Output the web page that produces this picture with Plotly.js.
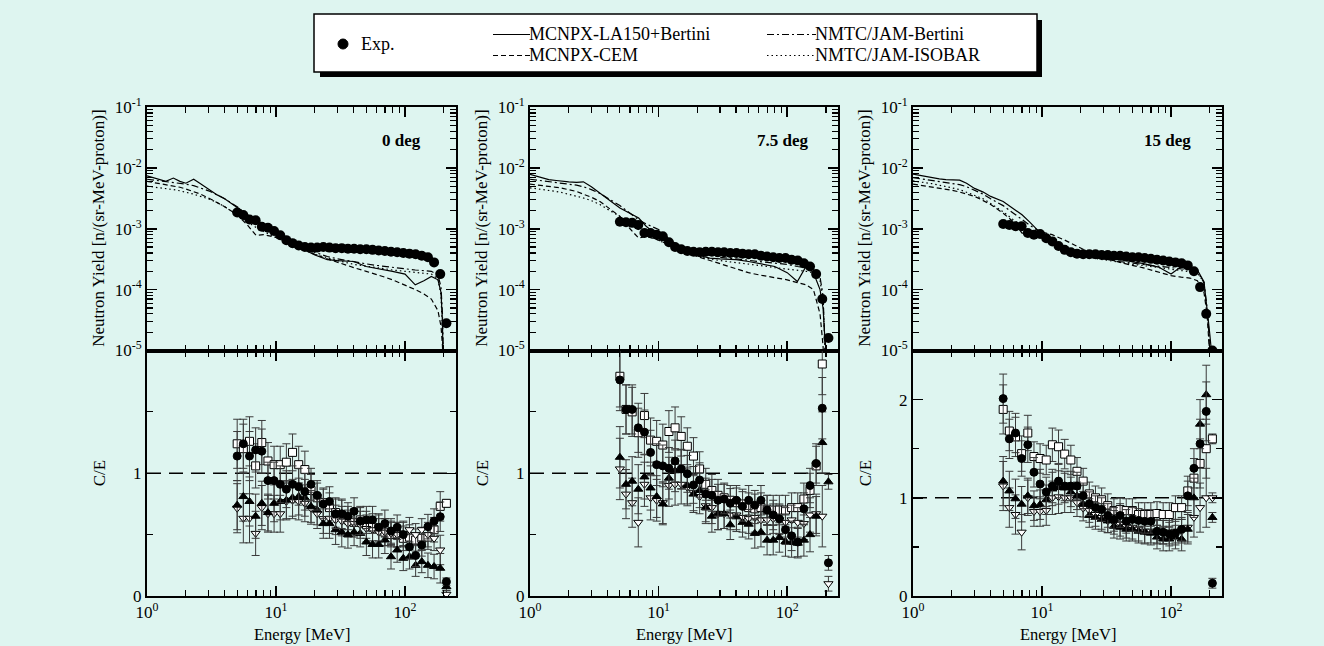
<!DOCTYPE html>
<html><head><meta charset="utf-8">
<script src="https://cdn.plot.ly/plotly-3.0.1.min.js"></script>
<style>html,body{margin:0;padding:0;background:#def5f0;} #chart{width:1324px;height:646px;}</style>
</head><body><div id="chart"></div>
<script>
// ---------- data ----------
const E = [5.0,5.58,6.23,6.95,7.76,8.66,9.66,10.78,12.03,13.43,14.99,16.73,18.67,20.84,23.26,25.96,28.97,32.33,36.09,40.28,44.95,50.17,55.99,62.49,69.75,77.84,86.88,96.97,108.2,120.8,134.8,150.5,167.9,187.4,209.2];
const LE = [1,1.2,1.4,1.6,1.8,2,2.3,2.6,3,3.5,4,5,6,7,8,10,12,15,20,25,30,40,50,60,70,80,100,120,140,160,180,190,195,200,205,210];

// 0 deg
const exp0 = [1.85e-3,1.68e-3,1.42e-3,1.38e-3,1.08e-3,1.04e-3,9.2e-4,7.8e-4,6.5e-4,5.8e-4,5.3e-4,5.0e-4,4.9e-4,4.9e-4,5.0e-4,4.9e-4,4.8e-4,4.8e-4,4.7e-4,4.7e-4,4.6e-4,4.6e-4,4.5e-4,4.4e-4,4.3e-4,4.2e-4,4.1e-4,4.0e-4,3.9e-4,3.8e-4,3.6e-4,3.4e-4,2.8e-4,1.8e-4,2.8e-5];
const la150_0 = [7.4e-3,6.5e-3,6.0e-3,6.8e-3,6.0e-3,5.6e-3,6.5e-3,5.5e-3,4.5e-3,3.6e-3,3.1e-3,2.2e-3,1.7e-3,1.4e-3,1.2e-3,9.0e-4,6.6e-4,5.0e-4,3.7e-4,3.1e-4,3.0e-4,2.9e-4,2.4e-4,2.25e-4,2.1e-4,2.0e-4,1.8e-4,1.2e-4,1.4e-4,1.65e-4,1.45e-4,9e-5,3e-5,1e-6,null,null];
const cem_0 = [6.0e-3,5.6e-3,5.3e-3,5.0e-3,4.8e-3,4.5e-3,4.1e-3,3.7e-3,3.2e-3,2.7e-3,2.3e-3,1.7e-3,1.15e-3,7.8e-4,8.0e-4,7.2e-4,6.2e-4,5.0e-4,3.8e-4,3.2e-4,2.8e-4,2.3e-4,2.0e-4,1.8e-4,1.6e-4,1.45e-4,1.2e-4,1.0e-4,8.5e-5,7.0e-5,4.5e-5,2.5e-5,1.2e-5,2e-6,null,null];
const bert_0 = [6.5e-3,6.2e-3,6.0e-3,5.8e-3,5.6e-3,5.4e-3,5.1e-3,4.7e-3,4.2e-3,3.6e-3,3.1e-3,2.3e-3,1.7e-3,1.3e-3,1.05e-3,8.2e-4,6.6e-4,5.2e-4,4.1e-4,3.5e-4,3.2e-4,2.85e-4,2.65e-4,2.5e-4,2.4e-4,2.3e-4,2.2e-4,2.1e-4,2.05e-4,2.0e-4,1.75e-4,1.1e-4,4e-5,3e-6,null,null];
const iso_0 = [5.0e-3,4.8e-3,4.6e-3,4.4e-3,4.2e-3,4.0e-3,3.7e-3,3.4e-3,3.1e-3,2.7e-3,2.3e-3,1.7e-3,1.3e-3,1.05e-3,9.0e-4,7.2e-4,6.0e-4,4.8e-4,3.8e-4,3.3e-4,3.0e-4,2.6e-4,2.4e-4,2.3e-4,2.2e-4,2.1e-4,2.0e-4,1.9e-4,1.85e-4,1.8e-4,1.5e-4,8e-5,2e-5,2e-6,null,null];
const ceLA_0 = [1.14,1.24,1.14,1.19,1.18,0.94,0.94,0.91,0.87,0.91,0.89,0.85,0.91,0.82,0.75,0.77,0.67,0.67,0.65,0.69,0.61,0.62,0.62,0.56,0.59,0.53,0.56,0.50,0.40,0.33,0.415,0.565,0.61,0.646,0.117];
const ceBE_0 = [1.24,1.20,1.26,1.06,1.25,1.10,1.07,1.07,1.09,1.17,1.07,1.03,0.86,0.80,0.76,0.72,0.68,0.66,0.62,0.60,0.62,0.58,0.56,0.55,0.52,0.50,0.50,0.47,0.48,0.456,0.47,0.48,0.54,0.73,0.755];
const ceCEM_0 = [0.74,0.81,0.77,0.65,0.755,0.68,0.755,0.77,0.78,0.80,0.81,0.80,0.73,0.70,0.59,0.59,0.54,0.52,0.50,0.52,0.51,0.44,0.42,0.42,0.456,0.32,0.375,0.307,0.32,0.25,0.28,0.25,0.24,0.226,0.076];
const ceIS_0 = [0.715,0.633,0.633,0.51,0.72,0.67,0.67,0.67,0.77,0.78,0.77,0.755,0.715,0.67,0.63,0.63,0.62,0.61,0.59,0.59,0.58,0.55,0.54,0.52,0.52,0.51,0.50,0.51,0.54,0.50,0.54,0.50,0.47,0.375,0.014];
const err_0 = [0.2,0.2,0.2,0.18,0.18,0.15,0.15,0.15,0.15,0.15,0.15,0.15,0.13,0.12,0.12,0.12,0.12,0.12,0.11,0.11,0.11,0.11,0.11,0.11,0.11,0.1,0.1,0.1,0.1,0.09,0.09,0.1,0.1,0.12,0.03];

// 7.5 deg
const exp75 = [1.30e-3,1.28e-3,1.25e-3,1.15e-3,8.5e-4,8.5e-4,8.0e-4,7.5e-4,6.0e-4,5.0e-4,4.6e-4,4.3e-4,4.2e-4,4.1e-4,4.2e-4,4.2e-4,4.1e-4,4.1e-4,4.0e-4,4.0e-4,3.9e-4,3.8e-4,3.8e-4,3.6e-4,3.5e-4,3.4e-4,3.3e-4,3.3e-4,3.1e-4,3.0e-4,2.7e-4,2.4e-4,1.8e-4,7e-5,1.6e-5];
const la150_75 = [7.8e-3,7.0e-3,6.4e-3,6.2e-3,6.0e-3,5.9e-3,5.8e-3,5.9e-3,4.9e-3,3.9e-3,3.1e-3,2.2e-3,1.8e-3,1.5e-3,1.1e-3,7.5e-4,5.8e-4,4.6e-4,3.7e-4,3.3e-4,3.2e-4,3.1e-4,2.9e-4,2.7e-4,2.5e-4,2.4e-4,1.9e-4,1.36e-4,2.4e-4,1.9e-4,1.0e-4,5e-5,2e-5,1e-5,1e-6,null];
const cem_75 = [5.4e-3,5.2e-3,5.0e-3,4.8e-3,4.6e-3,4.4e-3,4.1e-3,3.7e-3,3.3e-3,2.8e-3,2.3e-3,1.6e-3,1.0e-3,7.0e-4,7.5e-4,6.5e-4,5.5e-4,4.3e-4,3.5e-4,3.0e-4,2.7e-4,2.2e-4,1.9e-4,1.75e-4,1.65e-4,1.58e-4,1.45e-4,1.3e-4,1.2e-4,1.0e-4,4e-5,1.2e-5,3e-6,null,null,null];
const bert_75 = [6.5e-3,6.2e-3,6.0e-3,5.8e-3,5.6e-3,5.4e-3,5.2e-3,4.9e-3,4.4e-3,3.8e-3,3.2e-3,2.4e-3,1.8e-3,1.4e-3,1.2e-3,9.7e-4,6.8e-4,5.0e-4,4.2e-4,3.7e-4,3.4e-4,3.2e-4,3.0e-4,2.9e-4,2.8e-4,2.7e-4,2.6e-4,2.4e-4,2.3e-4,2.1e-4,1.6e-4,8e-5,3e-5,5e-6,null,null];
const iso_75 = [4.7e-3,4.5e-3,4.3e-3,4.1e-3,3.9e-3,3.7e-3,3.5e-3,3.2e-3,2.9e-3,2.5e-3,2.1e-3,1.6e-3,1.2e-3,9.5e-4,8.0e-4,6.5e-4,5.3e-4,4.3e-4,3.6e-4,3.2e-4,3.0e-4,2.8e-4,2.6e-4,2.5e-4,2.4e-4,2.3e-4,2.2e-4,2.1e-4,2.0e-4,1.9e-4,1.4e-4,7e-5,2.5e-5,4e-6,null,null];
const ceLA_75 = [1.76,1.52,1.52,1.37,1.335,1.17,1.07,1.06,1.04,1.10,1.035,0.995,0.905,0.945,0.83,0.82,0.78,0.79,0.755,0.78,0.73,0.78,0.74,0.78,0.70,0.66,0.63,0.54,0.49,0.44,0.71,0.90,1.08,1.53,0.27];
const ceBE_75 = [1.79,1.52,1.50,1.33,1.47,1.27,1.26,1.23,1.34,1.37,1.30,1.22,1.14,1.035,0.91,0.86,0.82,0.80,0.78,0.76,0.75,0.72,0.71,0.72,0.70,0.70,0.70,0.70,0.72,0.72,0.79,0.86,1.06,1.89,null];
const ceCEM_75 = [1.13,0.91,0.935,0.87,0.97,0.88,0.81,0.75,0.96,1.02,1.03,0.90,0.83,0.86,0.72,0.65,0.67,0.67,0.58,0.645,0.60,0.585,0.51,0.52,0.455,0.455,0.477,0.444,0.436,0.43,0.455,0.50,0.65,1.25,0.93];
const ceIS_75 = [1.035,0.83,0.76,0.60,0.91,0.80,0.78,0.76,0.90,0.91,0.91,0.885,0.845,0.81,0.735,0.72,0.67,0.67,0.66,0.66,0.64,0.63,0.64,0.62,0.62,0.63,0.62,0.60,0.62,0.60,0.59,0.66,0.67,0.65,0.10];
const err_75 = [0.25,0.2,0.2,0.2,0.18,0.18,0.17,0.17,0.17,0.17,0.16,0.15,0.15,0.14,0.13,0.13,0.13,0.12,0.12,0.12,0.12,0.12,0.12,0.12,0.12,0.12,0.12,0.12,0.12,0.12,0.13,0.14,0.16,0.25,0.06];

// 15 deg
const exp15 = [1.2e-3,1.15e-3,1.1e-3,1.1e-3,8.5e-4,8.0e-4,8.2e-4,7.0e-4,6.2e-4,5.2e-4,4.5e-4,4.1e-4,3.9e-4,3.8e-4,3.8e-4,3.8e-4,3.7e-4,3.7e-4,3.6e-4,3.6e-4,3.5e-4,3.4e-4,3.4e-4,3.3e-4,3.2e-4,3.1e-4,3.0e-4,2.9e-4,2.8e-4,2.7e-4,2.5e-4,2.0e-4,1.1e-4,4.0e-5,1.0e-5];
const la150_15 = [7.9e-3,7.3e-3,6.9e-3,6.6e-3,6.4e-3,6.3e-3,6.3e-3,5.6e-3,4.6e-3,4.0e-3,3.4e-3,2.8e-3,2.1e-3,1.7e-3,1.3e-3,8.0e-4,6.0e-4,4.4e-4,3.7e-4,3.4e-4,3.2e-4,3.1e-4,2.9e-4,2.7e-4,2.5e-4,2.35e-4,1.8e-4,2.4e-4,2.4e-4,2.1e-4,1.35e-4,5.5e-5,3e-5,1.8e-5,1.1e-5,6e-6];
const cem_15 = [5.4e-3,5.1e-3,4.9e-3,4.7e-3,4.5e-3,4.3e-3,4.0e-3,3.7e-3,3.4e-3,2.9e-3,2.5e-3,1.8e-3,1.3e-3,8.5e-4,8.3e-4,8.8e-4,8.0e-4,6.5e-4,4.8e-4,3.8e-4,3.3e-4,2.8e-4,2.5e-4,2.3e-4,2.1e-4,1.95e-4,1.7e-4,1.6e-4,1.55e-4,1.4e-4,9e-5,4e-5,2e-5,8e-6,null,null];
const bert_15 = [6.9e-3,6.5e-3,6.2e-3,6.0e-3,5.8e-3,5.6e-3,5.3e-3,4.9e-3,4.3e-3,3.7e-3,3.1e-3,2.4e-3,1.8e-3,1.4e-3,1.15e-3,8.5e-4,6.5e-4,5.0e-4,4.0e-4,3.5e-4,3.2e-4,2.9e-4,2.7e-4,2.6e-4,2.5e-4,2.4e-4,2.3e-4,2.2e-4,2.15e-4,2.0e-4,1.3e-4,5e-5,2.5e-5,8e-6,null,null];
const iso_15 = [6.1e-3,5.8e-3,5.5e-3,5.2e-3,5.0e-3,4.7e-3,4.4e-3,4.0e-3,3.6e-3,3.1e-3,2.6e-3,1.9e-3,1.4e-3,1.1e-3,9.0e-4,7.0e-4,5.5e-4,4.4e-4,3.7e-4,3.3e-4,3.1e-4,2.8e-4,2.6e-4,2.5e-4,2.4e-4,2.3e-4,2.2e-4,2.1e-4,2.0e-4,1.9e-4,1.3e-4,5e-5,2.5e-5,8e-6,null,null];
const ceLA_15 = [2.01,1.60,1.66,1.40,1.54,1.26,1.14,1.06,1.12,1.17,1.12,1.12,1.12,1.02,0.94,0.90,0.88,0.82,0.78,0.82,0.76,0.78,0.77,0.76,0.76,0.66,0.65,0.63,0.64,0.68,1.02,1.30,1.55,1.88,0.13];
const ceBE_15 = [1.90,1.68,1.62,1.45,1.66,1.42,1.40,1.385,1.54,1.52,1.445,1.385,1.27,1.17,1.04,1.00,0.98,0.92,0.87,0.88,0.87,0.87,0.83,0.83,0.83,0.84,0.83,0.83,0.90,0.90,1.07,1.20,1.35,1.50,1.60];
const ceCEM_15 = [1.17,1.07,0.99,0.935,1.02,0.92,0.93,0.98,1.09,1.105,1.10,1.06,1.02,0.935,0.82,0.80,0.78,0.765,0.71,0.70,0.68,0.68,0.66,0.65,0.64,0.60,0.58,0.58,0.60,0.58,0.68,1.00,1.75,2.05,0.80];
const ceIS_15 = [1.12,0.90,0.83,0.65,1.00,0.86,0.86,0.87,1.00,1.01,1.00,1.00,0.95,0.895,0.87,0.83,0.80,0.765,0.75,0.73,0.71,0.70,0.68,0.66,0.66,0.65,0.65,0.65,0.66,0.66,0.70,0.80,0.90,1.00,1.00];
const err_15 = [0.25,0.2,0.2,0.18,0.18,0.15,0.15,0.15,0.17,0.17,0.15,0.15,0.14,0.13,0.12,0.12,0.12,0.12,0.12,0.12,0.12,0.12,0.12,0.12,0.12,0.12,0.12,0.12,0.12,0.12,0.15,0.2,0.25,0.3,0.05];

const angleLabels = ['0 deg','7.5 deg','15 deg'];
const xTickText = ['10<sup>0</sup>','10<sup>1</sup>','10<sup>2</sup>'];
const yTickText = ['10<sup>-5</sup>','10<sup>-4</sup>','10<sup>-3</sup>','10<sup>-2</sup>','10<sup>-1</sup>'];
const seriesNames = ['MCNPX-LA150+Bertini','MCNPX-CEM','NMTC/JAM-Bertini','NMTC/JAM-ISOBAR'];

// ---------- layout helpers ----------
const W = 1324, H = 646;
const px = v => v / W, py = v => 1 - v / H;
const FONT = 'Liberation Serif, Times New Roman, serif';
const BG = '#def5f0';
const DASH = ['solid', '5px,3px', '7px,3px,2px,3px', '1.5px,3px'];

const panels = [
  {xl:147, xr:456, exp:exp0, lines:[la150_0,cem_0,bert_0,iso_0], ce:[ceLA_0,ceCEM_0,ceBE_0,ceIS_0], err:err_0, ymax:2.0, ytv:[0,1], ytt:['0','1']},
  {xl:530, xr:838, exp:exp75, lines:[la150_75,cem_75,bert_75,iso_75], ce:[ceLA_75,ceCEM_75,ceBE_75,ceIS_75], err:err_75, ymax:2.0, ytv:[0,1], ytt:['0','1']},
  {xl:913, xr:1222, exp:exp15, lines:[la150_15,cem_15,bert_15,iso_15], ce:[ceLA_15,ceCEM_15,ceBE_15,ceIS_15], err:err_15, ymax:2.5, ytv:[0,1,2], ytt:['0','1','2']}
];
const TOP = [107, 350.5], BOT = [350.5, 596];

const xMinor = [];
[1,10,100].forEach(d => { for (let m = 2; m <= 9; m++) if (m*d < 250) xMinor.push(m*d); });
const yMinor = [];
[1e-5,1e-4,1e-3,1e-2].forEach(d => { for (let m = 2; m <= 9; m++) yMinor.push(m*d); });

const tickfont = {family: FONT, size: 17, color: 'black'};
function baseAxis() {
  return {ticks:'inside', ticklen:10, tickwidth:1.5, tickcolor:'black', showline:true, linewidth:2,
          linecolor:'black', mirror:'allticks', showgrid:false, zeroline:false, tickfont, fixedrange:true};
}
function minorOf(vals) {
  return {tickmode:'array', tickvals:vals, ticks:'inside', ticklen:6, tickwidth:1.2, tickcolor:'black', showgrid:false};
}

const layout = {
  width: W, height: H, margin:{l:0,r:0,t:0,b:0},
  paper_bgcolor: BG, plot_bgcolor: BG, showlegend:false, hovermode:false,
  font:{family: FONT, color:'black'},
  shapes: [], annotations: []
};
const data = [];

panels.forEach((p, i) => {
  const nt = 2*i + 1, nb = 2*i + 2;
  const xt = 'x' + (nt === 1 ? '' : nt), yt = 'y' + (nt === 1 ? '' : nt);
  const xb = 'x' + nb, yb = 'y' + nb;
  const xdom = [px(p.xl), px(p.xr)];

  layout['xaxis' + (nt === 1 ? '' : nt)] = Object.assign(baseAxis(), {
    domain: xdom, anchor: yt, type:'log', range:[0, 2.395], tickmode:'array',
    tickvals:[1,10,100], showticklabels:false, minor: minorOf(xMinor)
  });
  layout['yaxis' + (nt === 1 ? '' : nt)] = Object.assign(baseAxis(), {
    domain:[py(TOP[1]), py(TOP[0])], anchor: xt, type:'log', range:[-5,-1], tickmode:'array',
    tickvals:[1e-5,1e-4,1e-3,1e-2,1e-1], ticktext: yTickText, minor: minorOf(yMinor)
  });
  layout['xaxis' + nb] = Object.assign(baseAxis(), {
    domain: xdom, anchor: yb, type:'log', range:[0, 2.395], tickmode:'array',
    tickvals:[1,10,100], ticktext: xTickText, minor: minorOf(xMinor)
  });
  layout['yaxis' + nb] = Object.assign(baseAxis(), {
    domain:[py(BOT[1]), py(BOT[0])], anchor: xb, range:[0, p.ymax], tickmode:'array',
    tickvals:p.ytv, ticktext:p.ytt, minor: minorOf([0.5,1.5])
  });

  // calculation lines (top)
  p.lines.forEach((ys, k) => {
    data.push({type:'scatter', mode:'lines', x: LE, y: ys, xaxis: xt, yaxis: yt, name: seriesNames[k],
      line:{color:'black', width: 1.2, dash: DASH[k]}, connectgaps:false});
  });
  // experiment (top)
  data.push({type:'scatter', mode:'markers', x: E, y: p.exp, xaxis: xt, yaxis: yt, name:'Exp.',
    marker:{symbol:'circle', size:10, color:'black'},
    error_y:{type:'percent', value:8, color:'black', thickness:1, width:3}});

  // ratio line at 1
  layout.shapes.push({type:'line', xref: xb + ' domain', yref: yb, x0:0, x1:1, y0:1, y1:1,
    line:{color:'black', width:1.5, dash:'14px,8px'}, layer:'below'});

  // C/E (bottom): LA150 circle, CEM filled triangle, NMTC-Bertini open square, ISOBAR open inverted triangle
  const sty = [
    {symbol:'circle', size:8, color:'black', line:{color:'black', width:1}},
    {symbol:'triangle-up', size:8, color:'black', line:{color:'black', width:1}},
    {symbol:'square', size:8, color:'white', line:{color:'black', width:1}},
    {symbol:'triangle-down', size:8, color:'white', line:{color:'black', width:1}}
  ];
  [2,3,1,0].forEach(k => {
    data.push({type:'scatter', mode:'markers', x: E, y: p.ce[k], xaxis: xb, yaxis: yb, name: seriesNames[k],
      marker: sty[k], error_y:{type:'data', array:p.err, visible:true, color:'#3a3a3a', thickness:1, width:4}});
  });

  // titles
  const xl = p.xl - 48;
  layout.annotations.push({xref:'paper', yref:'paper', x:px(xl), y:py((TOP[0]+TOP[1])/2), text:'Neutron Yield [n/(sr-MeV-proton)]',
    textangle:-90, showarrow:false, font:{family:FONT, size:17, color:'black'}, xanchor:'center', yanchor:'middle'});
  layout.annotations.push({xref:'paper', yref:'paper', x:px(xl), y:py((BOT[0]+BOT[1])/2), text:'C/E',
    textangle:-90, showarrow:false, font:{family:FONT, size:17, color:'black'}, xanchor:'center', yanchor:'middle'});
  layout.annotations.push({xref:'paper', yref:'paper', x:px((p.xl+p.xr)/2), y:py(634), text:'Energy [MeV]',
    showarrow:false, font:{family:FONT, size:16.5, color:'black'}, xanchor:'center', yanchor:'middle'});
  layout.annotations.push({xref:'paper', yref:'paper', x:px(p.xr - 55), y:py(141), text:'<b>' + angleLabels[i] + '</b>',
    showarrow:false, font:{family:FONT, size:17, color:'black'}, xanchor:'center', yanchor:'middle'});
});

// ---------- legend box ----------
const LB = {x0:314, y0:14, x1:1037, y1:72};
layout.shapes.push({type:'rect', xref:'paper', yref:'paper', x0:px(LB.x0+6), x1:px(LB.x1+5), y0:py(LB.y1+5), y1:py(LB.y0+6),
  fillcolor:'black', line:{width:0}});
layout.shapes.push({type:'rect', xref:'paper', yref:'paper', x0:px(LB.x0), x1:px(LB.x1), y0:py(LB.y1), y1:py(LB.y0),
  fillcolor:'white', line:{color:'black', width:1.5}});
layout.shapes.push({type:'circle', xref:'paper', yref:'paper', x0:px(338), x1:px(348), y0:py(49), y1:py(39),
  fillcolor:'black', line:{color:'black', width:1}});
const legFont = {family:FONT, size:18, color:'black'};
layout.annotations.push({xref:'paper', yref:'paper', x:px(359), y:py(44), text:'Exp.', showarrow:false, font:legFont, xanchor:'left', yanchor:'middle'});
const legItems = [
  {x0:493, x1:530, y:34.5, k:0}, {x0:493, x1:530, y:55.5, k:1},
  {x0:767, x1:816, y:34.5, k:2}, {x0:767, x1:816, y:55.5, k:3}
];
legItems.forEach(it => {
  layout.shapes.push({type:'line', xref:'paper', yref:'paper', x0:px(it.x0), x1:px(it.x1), y0:py(it.y), y1:py(it.y),
    line:{color:'black', width:1.2, dash:DASH[it.k]}});
  layout.annotations.push({xref:'paper', yref:'paper', x:px(it.x1), y:py(it.y), text:seriesNames[it.k], showarrow:false,
    font:legFont, xanchor:'left', yanchor:'middle', xshift:-3});
});

Plotly.newPlot('chart', data, layout, {displayModeBar:false, staticPlot:true});
</script>
</body></html>
